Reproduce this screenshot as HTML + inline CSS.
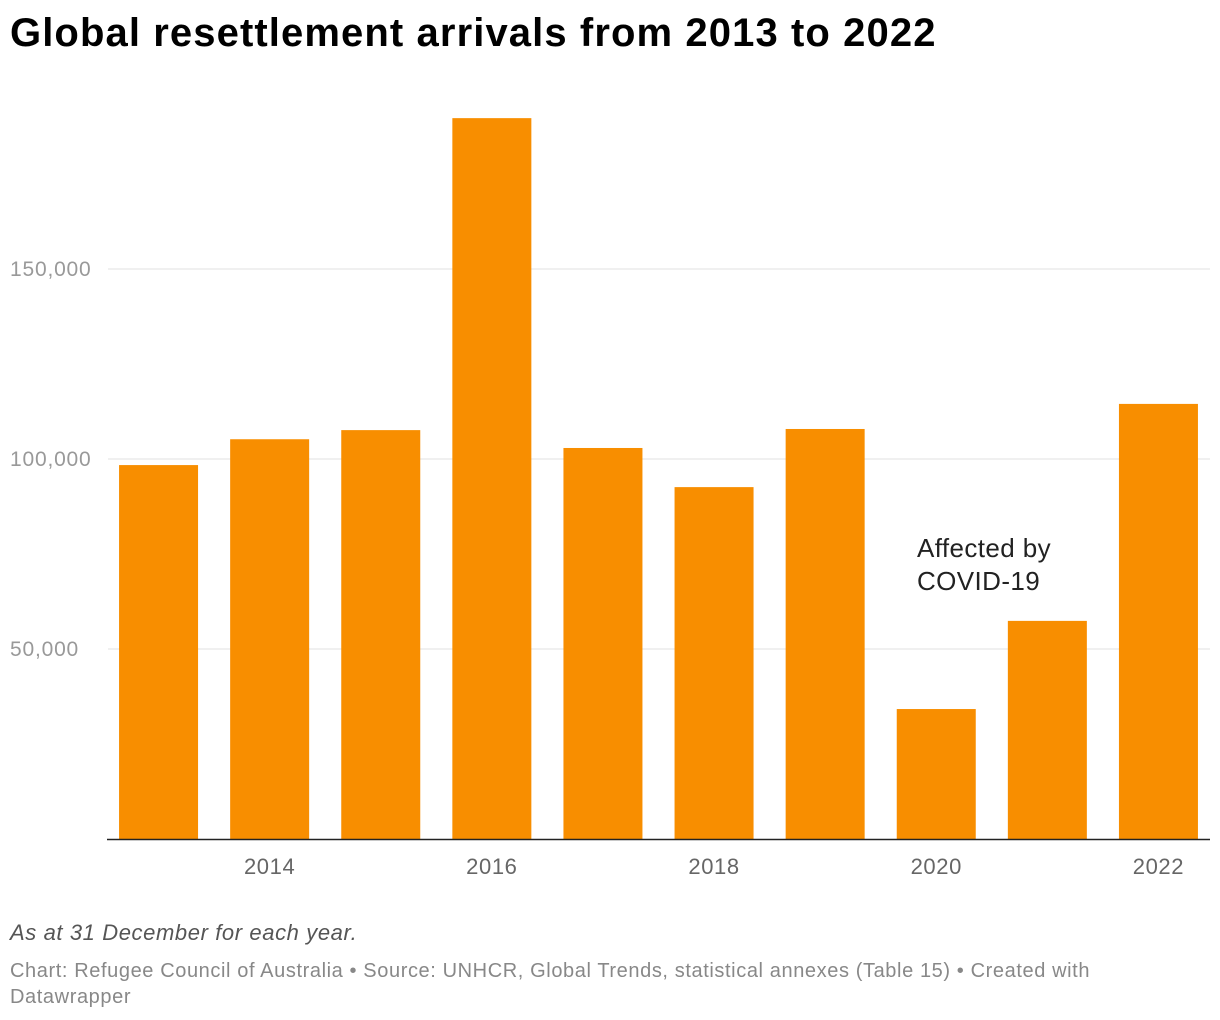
<!DOCTYPE html>
<html><head><meta charset="utf-8"><style>
body{margin:0;width:1220px;height:1020px;background:#fff;font-family:"Liberation Sans",Arial,sans-serif;position:relative;overflow:hidden}
h1{position:absolute;left:10px;top:11px;margin:0;font-size:40px;font-weight:bold;color:#000;letter-spacing:1.1px}
.note{position:absolute;left:10px;top:920px;font-size:22px;font-style:italic;color:#555;letter-spacing:0.6px}
.foot{position:absolute;left:10px;top:958px;font-size:20px;color:#888;line-height:26px;width:1125px;letter-spacing:0.6px}
svg{position:absolute;left:0;top:0}
</style></head><body>
<h1>Global resettlement arrivals from 2013 to 2022</h1>
<svg id="chart" width="1220" height="900"></svg>
<div class="note">As at 31 December for each year.</div>
<div class="foot">Chart: Refugee Council of Australia • Source: UNHCR, Global Trends, statistical annexes (Table 15) • Created with Datawrapper</div>
<script>
const years=[2013,2014,2015,2016,2017,2018,2019,2020,2021,2022];
const values=[98400,105200,107600,189700,102900,92600,107900,34200,57400,114500];
const yTicks=[50000,100000,150000];
const xTickYears=[2014,2016,2018,2020,2022];
const NS="http://www.w3.org/2000/svg";
const svg=document.getElementById('chart');
const left=103,right=1214,base=839,pxPer=0.0038;
const band=(right-left)/years.length,bw=79;
const y=v=>base-v*pxPer;
const xc=i=>left+band*(i+0.5);
function mk(t,a){const e=document.createElementNS(NS,t);for(const k in a)e.setAttribute(k,a[k]);svg.appendChild(e);return e;}
yTicks.forEach(t=>{
 const l=mk('line',{x1:108,x2:1210,y1:y(t),y2:y(t),stroke:'#e0e0e0','stroke-width':1});
 
 
 const tx=mk('text',{x:10,y:y(t)+7,'font-size':21,fill:'#999','letter-spacing':'0.8'});
 tx.textContent=t.toLocaleString('en-US');
 
 
});
values.forEach((v,i)=>{
 const r=mk('rect',{x:xc(i)-bw/2,y:y(v),width:bw,height:base-y(v),fill:'#f88e00'});
 
 
});
const ax=mk('line',{x1:107,x2:1210,y1:base+0.5,y2:base+0.5,stroke:'#222','stroke-width':1.5});


xTickYears.forEach(yr=>{
 const i=years.indexOf(yr);
 const t=mk('text',{x:xc(i),y:874,'font-size':22,fill:'#666','text-anchor':'middle','letter-spacing':'0.6'});
 t.textContent=yr;
 
 
});
const a1=mk('text',{x:917,y:557,'font-size':26,fill:'#222','letter-spacing':'0.4'});a1.textContent='Affected by';


const a2=mk('text',{x:917,y:590,'font-size':26,fill:'#222','letter-spacing':'0.4'});a2.textContent='COVID-19';


</script>
</body></html>
